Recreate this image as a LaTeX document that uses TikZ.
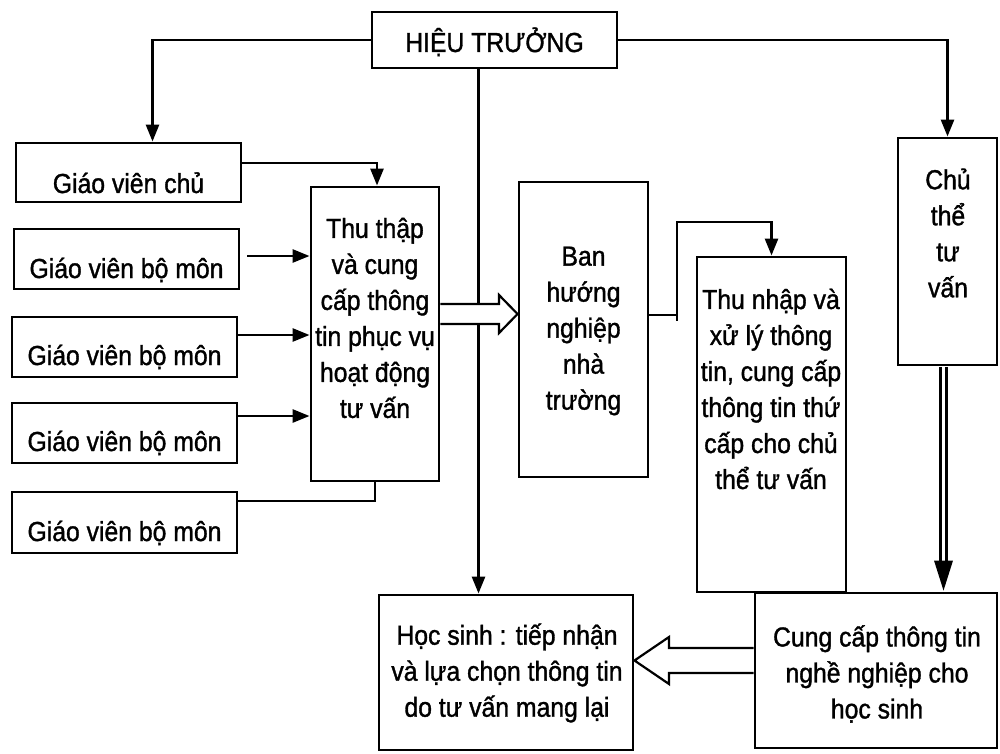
\documentclass[tikz,border=0pt]{standalone}
\usepackage{fontspec}
\setmainfont[FakeBold=1.2,FakeStretch=0.9]{Liberation Sans}
\usetikzlibrary{arrows.meta,calc}
\begin{document}
\begin{tikzpicture}[x=1pt,y=-1pt,
  box/.style={draw, line width=2.9pt, inner sep=0pt, fill=white},
  txt/.style={inner sep=0pt, align=center, font=\fontsize{27.5}{36}\selectfont},
  conn/.style={line width=2.7pt},
  arr/.style={line width=2.7pt, -{Triangle[length=17pt,width=13pt]}},
  hollow/.style={line width=2.2pt, fill=white, line join=miter}
]
\useasboundingbox (0,0) rectangle (1000,754);

% boxes
\node[box, minimum width=245pt, minimum height=56pt] (ht) at (494.5,40) {};
\node[box, minimum width=225pt, minimum height=59pt] (gvc) at (128.5,172.5) {};
\node[box, minimum width=225pt, minimum height=60pt] (gv1) at (126.5,259) {};
\node[box, minimum width=225pt, minimum height=60pt] (gv2) at (124.5,347) {};
\node[box, minimum width=225pt, minimum height=60pt] (gv3) at (124.5,433) {};
\node[box, minimum width=225pt, minimum height=61pt] (gv4) at (124.5,522.5) {};
\node[box, minimum width=128pt, minimum height=294pt] (thu) at (375,334) {};
\node[box, minimum width=129pt, minimum height=295pt] (ban) at (583.5,329.5) {};
\node[box, minimum width=149pt, minimum height=335pt] (tn) at (771.5,424.5) {};
\node[box, minimum width=99pt, minimum height=227pt] (chu) at (947.5,251.5) {};
\node[box, minimum width=242pt, minimum height=155pt] (cung) at (876,670.5) {};
\node[box, minimum width=254pt, minimum height=155pt] (hs) at (506,672.5) {};

% texts
\node[txt, anchor=base] (tht) at (494.5,52) {HIỆU TRƯỞNG};
\node[txt, anchor=base] (tgvc) at ($(gvc.center)+(0,20.5)$) {Giáo viên chủ};
\node[txt, anchor=base] (tgv1) at ($(gv1.center)+(0,19)$) {Giáo viên bộ môn};
\node[txt, anchor=base] (tgv2) at ($(gv2.center)+(0,18)$) {Giáo viên bộ môn};
\node[txt, anchor=base] (tgv3) at ($(gv3.center)+(0,18)$) {Giáo viên bộ môn};
\node[txt, anchor=base] (tgv4) at ($(gv4.center)+(0,18.5)$) {Giáo viên bộ môn};
\node[txt] (tthu) at (375,318) {Thu thập\\và cung\\cấp thông\\tin phục vụ\\hoạt động\\tư vấn};
\node[txt] (tban) at (583.5,331) {Ban\\hướng\\nghiệp\\nhà\\trường};
\node[txt] (ttn) at (771,389) {Thu nhập và\\xử lý thông\\tin, cung cấp\\thông tin thứ\\cấp cho chủ\\thể tư vấn};
\node[txt] (tchu) at (948,233) {Chủ\\thể\\tư\\vấn};
\node[txt] (ths) at (507,673) {Học sinh : tiếp nhận\\và lựa chọn thông tin\\do tư vấn mang lại};
\node[txt] (tcung) at (877,674) {Cung cấp thông tin\\nghề nghiệp cho\\học sinh};

% connectors from HIỆU TRƯỞNG
\coordinate (gvcin) at ($(gvc.north)+(24,0)$);
\draw[arr] (ht.west) -| (gvcin);
\draw[arr] (ht.east) -| (chu.north);
\coordinate (htdown) at ($(ht.south)+(-16,0)$);
\draw[arr] (htdown) -- (htdown |- hs.north);

% teachers to Thu thap
\draw[arr] ($(gvc.east)+(0,-9.5)$) -| ($(thu.north)+(2,0)$);
\draw[arr] ($(gv1.east)+(7,-3)$) -- (thu.west |- 0,256);
\draw[arr] ($(gv2.east)+(0,-12)$) -- (thu.west |- 0,335);
\draw[arr] ($(gv3.east)+(0,-17)$) -- (thu.west |- 0,416);
\draw[conn] ($(gv4.east)+(0,-21.5)$) -| (thu.south);

% Ban -> Thu nhap
\coordinate (bk) at (677,315);
\draw[arr] ($(ban.east)+(0,-14.5)$) -- (bk) -- (677,222) -| (tn.north);
\draw[conn] (bk) -- (677,321);

% hollow arrow Thu thap -> Ban
\draw[hollow] (thu.east |- 0,304) -- (499,304) -- (499,295) -- (ban.west |- 0,314)
  -- (499,333) -- (499,324) -- (thu.east |- 0,324);

% hollow arrow Cung cap -> Hoc sinh
\draw[hollow] (cung.west |- 0,648) -- (669,648) -- (669,637) -- (hs.east |- 0,660.5)
  -- (669,684) -- (669,673) -- (cung.west |- 0,673);

% double arrow Chu the -> Cung cap
\coordinate (dtop) at ($(chu.south)+(-4,0)$);
\coordinate (dbot) at (dtop |- cung.north);
\draw[line width=2.2pt] ($(dtop)+(-3,1)$) -- ($(dbot)+(-3,-26)$);
\draw[line width=2.2pt] ($(dtop)+(3,1)$) -- ($(dbot)+(3,-26)$);
\fill ($(dbot)+(-9.5,-31)$) -- ($(dbot)+(9.5,-31)$) -- ($(dbot)+(0,-1)$) -- cycle;
\end{tikzpicture}
\end{document}
